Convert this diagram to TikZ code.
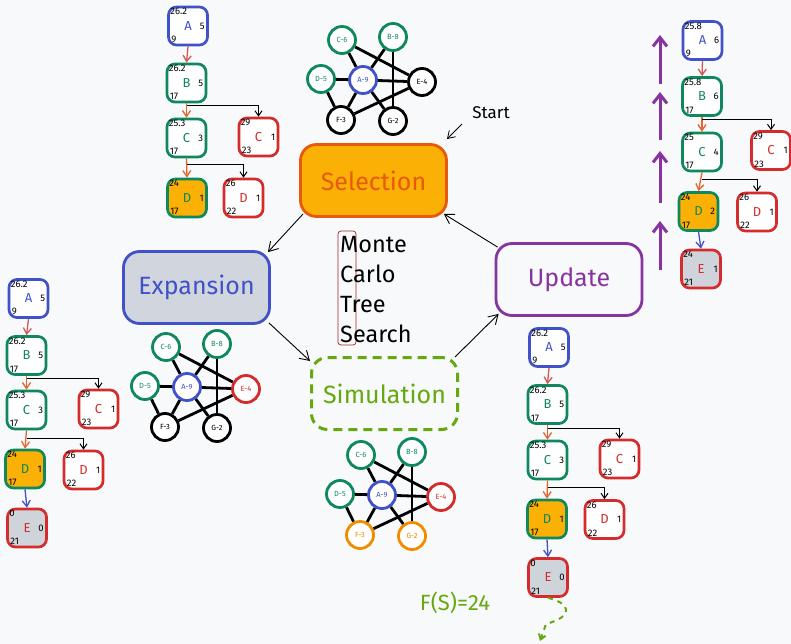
\documentclass[tikz,border=0pt]{standalone}
\usepackage{fontspec}
\setmainfont{Fira Sans}
\usetikzlibrary{arrows.meta}
\definecolor{bg}{RGB}{248,249,250}
\definecolor{cblue}{RGB}{64,82,200}
\definecolor{cgreen}{RGB}{14,136,92}
\definecolor{cred}{RGB}{212,44,44}
\definecolor{corange}{RGB}{250,176,5}
\definecolor{cgray}{RGB}{206,212,218}
\definecolor{cpurple}{RGB}{136,52,160}
\definecolor{csim}{RGB}{102,168,15}
\definecolor{cortwo}{RGB}{240,140,0}
\definecolor{csel}{RGB}{232,89,12}
\definecolor{cbrick}{RGB}{205,90,85}
\definecolor{carr}{RGB}{228,100,50}
\definecolor{cexp}{RGB}{208,213,222}
\tikzset{
  tbox/.style={draw, rounded corners=8pt, line width=2.7pt, minimum width=39pt, minimum height=38pt, inner sep=0pt, fill=white},
  bbox/.style={tbox, draw=cblue},
  gbox/.style={tbox, draw=cgreen},
  rbox/.style={tbox, draw=cred},
  obox/.style={tbox, draw=cgreen, fill=corange},
  ebox/.style={tbox, draw=cred, fill=cgray},
  tsmall/.style={inner sep=0pt, font=\fontsize{9.5}{10}\selectfont},
  tletter/.style={inner sep=0pt, font=\fontsize{13}{14}\selectfont},
  tarr/.style={line width=1.3pt, -{Straight Barb[length=6pt,width=8pt]}},
  harr/.style={line width=1pt, black, -{Straight Barb[length=5pt,width=7pt]}},
  gnode/.style={circle, minimum size=27pt, line width=2.8pt, inner sep=0pt, fill=white, font=\fontsize{7.5}{8}\selectfont},
  gedge/.style={line width=2.8pt, black},
  mainbox/.style={rounded corners=16pt, line width=2.8pt, minimum width=146pt, minimum height=72pt, font=\fontsize{25}{28}\selectfont},
  marr/.style={line width=0.9pt, black, -{Straight Barb[length=9pt,width=11pt]}},
  parr/.style={line width=3pt, cpurple, -{Straight Barb[length=9pt,width=14pt]}},
  mctext/.style={anchor=base west, inner sep=0pt, font=\fontsize{23.5}{26}\selectfont},
}
\newcommand\tnode[9]{%
  \node[#4] (#1) at (#2,#3) {};
  \node[tsmall,anchor=north west] (#1t) at ([shift={(3,2.5)}]#1.north west) {#5};
  \node[tletter,text=#7] (#1l) at (#1.center) {#6};
  \node[tsmall,anchor=east] (#1r) at ([shift={(-4,0)}]#1.east) {#8};
  \node[tsmall,anchor=south west] (#1b) at ([shift={(4,-3.5)}]#1.south west) {#9};
}
\newcommand\mgraph[6]{%
  \begin{scope}[shift={(#2,#3)}]
    \node[gnode,draw=cgreen,text=cgreen] (#1C) at (-21,-40) {C-6};
    \node[gnode,draw=cgreen,text=cgreen] (#1B) at (30,-43) {B-8};
    \node[gnode,draw=cgreen,text=cgreen] (#1D) at (-42,-1) {D-5};
    \node[gnode,draw=cblue,text=cblue] (#1A) at (0,0) {A-9};
    \node[gnode,draw=#4,text=#4] (#1E) at (59,2) {E-4};
    \node[gnode,draw=#5,text=#5] (#1F) at (-22,40) {F-3};
    \node[gnode,draw=#6,text=#6] (#1G) at (30,41) {G-2};
  \end{scope}
  \draw[gedge] (#1C) -- (#1A);
  \draw[gedge] (#1C) -- (#1E);
  \draw[gedge] (#1B) -- (#1A);
  \draw[gedge] (#1B) -- (#1G);
  \draw[gedge] (#1D) -- (#1A);
  \draw[gedge] (#1D) -- (#1F);
  \draw[gedge] (#1A) -- (#1E);
  \draw[gedge] (#1A) -- (#1F);
  \draw[gedge] (#1A) -- (#1G);
  \draw[gedge] (#1F) -- (#1E);
}
\begin{document}
\begin{tikzpicture}[x=1pt,y=-1pt]
\fill[bg] (0,0) rectangle (791,644);
\useasboundingbox (0,0) rectangle (791,644);

% graphs
\mgraph{T}{363}{80}{black}{black}{black}
\mgraph{L}{187}{387}{cred}{black}{black}
\mgraph{S}{382}{495}{cred}{cortwo}{cortwo}

% top-left tree
\tnode{TLA}{188}{26}{bbox}{26.2}{A}{cblue}{5}{9}
\tnode{TLB}{186.5}{83}{gbox}{26.2}{B}{cgreen}{5}{17}
\tnode{TLC}{186.5}{138}{gbox}{25.3}{C}{cgreen}{3}{17}
\tnode{TLCx}{258.5}{137}{rbox}{29}{C}{cred}{1}{23}
\tnode{TLD}{187}{198}{obox}{24}{D}{cgreen}{1}{17}
\tnode{TLDx}{243.5}{198}{rbox}{26}{D}{cred}{1}{22}
\draw[tarr,cbrick] (TLA.south) -- (TLB.north);
\draw[tarr,carr] (TLB.south) -- (TLC.north);
\draw[tarr,carr] (TLC.south) -- (TLD.north);
\draw[harr] ([shift={(0,2)}]TLB.south) -| (TLCx.north);
\draw[harr] ([shift={(0,6)}]TLC.south) -| (TLDx.north);

% right tree
\tnode{RA}{702.5}{40.5}{bbox}{25.8}{A}{cblue}{6}{9}
\tnode{RB}{702}{96.5}{gbox}{25.8}{B}{cgreen}{6}{17}
\tnode{RC}{702}{152}{gbox}{25}{C}{cgreen}{4}{17}
\tnode{RCx}{771}{150.5}{rbox}{29}{C}{cred}{1}{23}
\tnode{RD}{698.5}{211.5}{obox}{24}{D}{cgreen}{2}{17}
\tnode{RDx}{757}{212}{rbox}{26}{D}{cred}{1}{22}
\tnode{RE}{701}{269}{ebox}{24}{E}{cred}{1}{21}
\draw[tarr,cbrick] (RA.south) -- (RB.north);
\draw[tarr,carr] (RB.south) -- (RC.north);
\draw[tarr,carr] (RC.south) -- (RD.north);
\draw[tarr,cblue] (RD.south) -- (RE.north);
\draw[harr] ([shift={(0,3)}]RB.south) -| (RCx.north);
\draw[harr] ([shift={(0,7)}]RC.south) -| (RDx.north);

% left tree
\tnode{LA}{28.5}{298.5}{bbox}{26.2}{A}{cblue}{5}{9}
\tnode{LB}{26.5}{355.5}{gbox}{26.2}{B}{cgreen}{5}{17}
\tnode{LC}{26.5}{410}{gbox}{25.3}{C}{cgreen}{3}{17}
\tnode{LCx}{98.5}{409}{rbox}{29}{C}{cred}{1}{23}
\tnode{LD}{25}{469}{obox}{24}{D}{cgreen}{1}{17}
\tnode{LDx}{83.5}{470}{rbox}{26}{D}{cred}{1}{22}
\tnode{LE}{27}{528}{ebox}{0}{E}{cred}{0}{21}
\draw[tarr,cbrick] (LA.south) -- (LB.north);
\draw[tarr,carr] (LB.south) -- (LC.north);
\draw[tarr,carr] (LC.south) -- (LD.north);
\draw[tarr,cblue] (LD.south) -- (LE.north);
\draw[harr] ([shift={(0,3)}]LB.south) -| (LCx.north);
\draw[harr] ([shift={(0,8)}]LC.south) -| (LDx.north);

% bottom tree
\tnode{MA}{549}{347.5}{bbox}{26.2}{A}{cblue}{5}{9}
\tnode{MB}{547.5}{404.5}{gbox}{26.2}{B}{cgreen}{5}{17}
\tnode{MC}{547.5}{460}{gbox}{25.3}{C}{cgreen}{3}{17}
\tnode{MCx}{619.5}{459}{rbox}{29}{C}{cred}{1}{23}
\tnode{MD}{547}{519}{obox}{24}{D}{cgreen}{1}{17}
\tnode{MDx}{604.5}{519.5}{rbox}{26}{D}{cred}{1}{22}
\tnode{ME}{548}{577.5}{ebox}{0}{E}{cred}{0}{21}
\draw[tarr,cbrick] (MA.south) -- (MB.north);
\draw[tarr,carr] (MB.south) -- (MC.north);
\draw[tarr,carr] (MC.south) -- (MD.north);
\draw[tarr,cblue] (MD.south) -- (ME.north);
\draw[harr] ([shift={(0,4)}]MB.south) -| (MCx.north);
\draw[harr] ([shift={(0,7)}]MC.south) -| (MDx.north);
\coordinate (mend) at (540,641);
\draw[line width=2pt, csim, dash pattern=on 5pt off 5pt, -{Straight Barb[length=5pt,width=7pt]}]
  (ME.south) .. controls (570,603) and (575,616) .. (546,624) -- (mend);

% purple update arrows
\coordinate (p1s) at (660,84); \coordinate (p1e) at (660,35);
\coordinate (p2s) at (660,140); \coordinate (p2e) at (660,92);
\coordinate (p3s) at (660,203); \coordinate (p3e) at (660,151);
\coordinate (p4s) at (660,270); \coordinate (p4e) at (660,221);
\draw[parr] (p1s) -- (p1e);
\draw[parr] (p2s) -- (p2e);
\draw[parr] (p3s) -- (p3e);
\draw[parr] (p4s) -- (p4e);

% main boxes
\node[mainbox, draw=csel, fill=corange, text=csel] (sel) at (373.5,180.5) {Selection};
\node[mainbox, draw=cblue, fill=cexp, text=cblue] (exp) at (196.5,287.5) {Expansion};
\node[mainbox, draw=csim, text=csim, line width=3pt, dash pattern=on 9pt off 6pt] (sim) at (384.5,393.5) {Simulation};
\node[mainbox, draw=cpurple, text=cpurple] (upd) at (569,279.5) {Update};

\draw[marr] ([shift={(4,-4)}]sel.south west) -- ([shift={(-3,2)}]exp.north east);
\draw[marr] ([shift={(-2,-2)}]exp.south east) -- ([shift={(0,5)}]sim.north west);
\draw[marr] ([shift={(-4,1)}]sim.north east) -- ([shift={(4,-3)}]upd.south west);
\draw[marr] ([shift={(3,5)}]upd.north west) -- ([shift={(-4,-4)}]sel.south east);

% Monte Carlo Tree Search
\draw[cred!80!black, line width=0.7pt, rounded corners=3pt] (338,231) rectangle (356,345);
\node[mctext] (mc1) at (340,252) {Monte};
\node[mctext] (mc2) at (340,282) {Carlo};
\node[mctext] (mc3) at (340,312) {Tree};
\node[mctext] (mc4) at (340,342) {Search};

% start
\node[inner sep=0pt, font=\fontsize{17}{19}\selectfont] (start) at (491,113) {Start};
\coordinate (sa) at (462,124);
\coordinate (sb) at (447,139);
\draw[line width=0.8pt, -{Straight Barb[length=7pt,width=9pt]}] (sa) -- (sb);

% F(S)
\node[inner sep=0pt, text=csim, font=\fontsize{22}{24}\selectfont] (fs) at (455,603) {F(S)=24};
\end{tikzpicture}
\end{document}
